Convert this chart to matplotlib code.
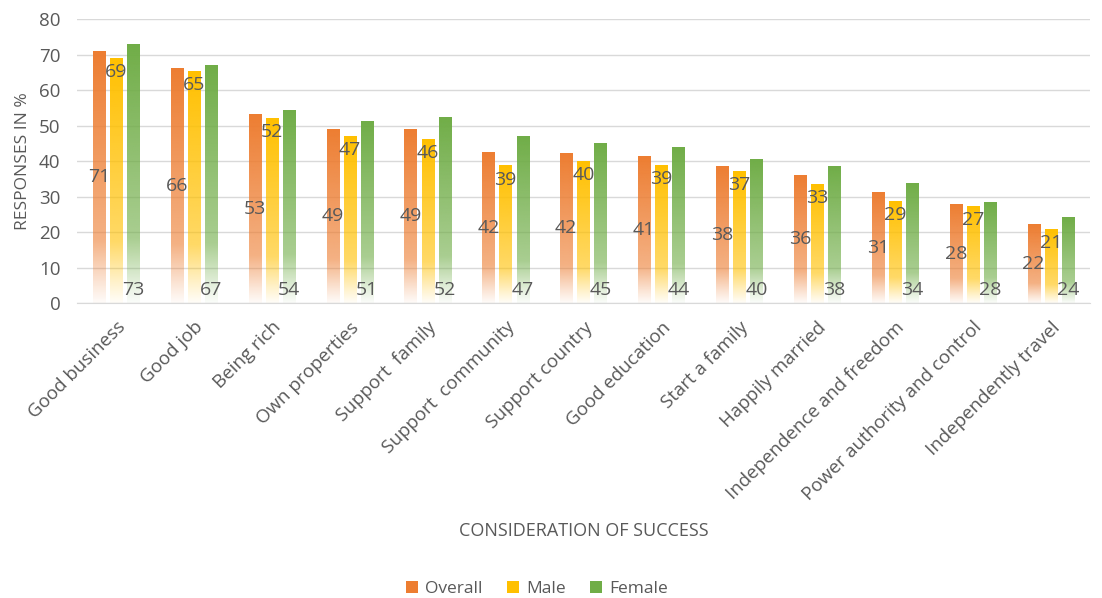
import numpy as np
import matplotlib
matplotlib.use("Agg")
import matplotlib.pyplot as plt
from matplotlib.colors import to_rgb
from matplotlib.patches import Patch

categories = ["Good business", "Good job", "Being rich", "Own properties", "Support  family",
              "Support  community", "Support country", "Good education", "Start a family",
              "Happily married", "Independence and freedom", "Power authority and control",
              "Independently travel"]
overall = [70.9, 66.1, 53.2, 49.0, 49.0, 42.4, 42.2, 41.4, 38.5, 35.8, 31.0, 27.8, 22.2]
male = [68.9, 65.2, 52.1, 47.0, 46.0, 38.6, 40.0, 38.8, 37.0, 33.4, 28.7, 27.3, 20.8]
female = [72.8, 67.0, 54.3, 51.2, 52.3, 46.8, 44.8, 43.9, 40.4, 38.4, 33.6, 28.4, 24.0]
series_names = ["Overall", "Male", "Female"]
colors = ["#ED7D31", "#FFC000", "#70AD47"]

plt.rcParams['font.family'] = ['Open Sans', 'DejaVu Sans']
txt = "#595959"

fig = plt.figure(figsize=(11.02, 5.98), dpi=100)
ax = fig.add_axes([0.0699, 0.4933, 0.919, 0.4749])

n = len(categories)
x = np.arange(n)
width = 0.155
offsets = [-0.22, 0.0, 0.22]

def alpha_profile(m):
    f = np.linspace(0, 1, m)  # 0 bottom -> 1 top
    return np.interp(f, [0.0, 0.08, 0.25, 1.0], [0.03, 0.2, 0.6, 1.0])

for vals, col, off, si in zip([overall, male, female], colors, offsets, range(3)):
    rgb = to_rgb(col)
    for xi, v in zip(x, vals):
        m = 200
        img = np.zeros((m, 1, 4))
        img[:, 0, :3] = rgb
        img[:, 0, 3] = alpha_profile(m)
        x0 = xi + off - width / 2
        ax.imshow(img, extent=[x0, x0 + width, 0, v], origin='lower',
                  aspect='auto', interpolation='bilinear', zorder=2)
        lab = f"{v:.0f}"
        if si == 0:
            ax.text(xi + off, v / 2, lab, ha='center', va='center', fontsize=14, color=txt, zorder=4)
        elif si == 1:
            ax.text(xi + off, v - 1.3, lab, ha='center', va='top', fontsize=14, color=txt, zorder=4)
        else:
            ax.text(xi + off, 1.0, lab, ha='center', va='bottom', fontsize=14, color=txt, zorder=4)

ax.set_xlim(-0.5, n - 0.5)
ax.set_ylim(0, 80)
ax.set_yticks(np.arange(0, 81, 10))
ax.grid(axis='y', color='#D9D9D9', linewidth=1, zorder=0)
ax.set_axisbelow(True)
for s in ['top', 'right', 'left']:
    ax.spines[s].set_visible(False)
ax.spines['bottom'].set_color('#D9D9D9')
ax.tick_params(axis='y', length=0, labelsize=13.5, labelcolor=txt, pad=12)
ax.tick_params(axis='x', length=0, labelsize=13.5, labelcolor=txt, pad=11)
ax.set_xticks(x)
ax.set_xticklabels(categories, rotation=45, ha='right', rotation_mode='anchor')
ax.set_ylabel("RESPONSES IN %", fontsize=12.5, color=txt, labelpad=6)
ax.set_xlabel("CONSIDERATION OF SUCCESS", fontsize=13, color=txt)
ax.xaxis.set_label_coords(0.5, -0.77)

handles = [Patch(facecolor=c, edgecolor='none', label=l) for c, l in zip(colors, series_names)]
fig.legend(handles=handles, loc='center', bbox_to_anchor=(0.487, 0.015), ncol=3,
           frameon=False, fontsize=12.5, labelcolor=txt, handlelength=0.7, handleheight=0.7,
           handletextpad=0.4, columnspacing=1.4)

fig.savefig("out.png", dpi=100)
